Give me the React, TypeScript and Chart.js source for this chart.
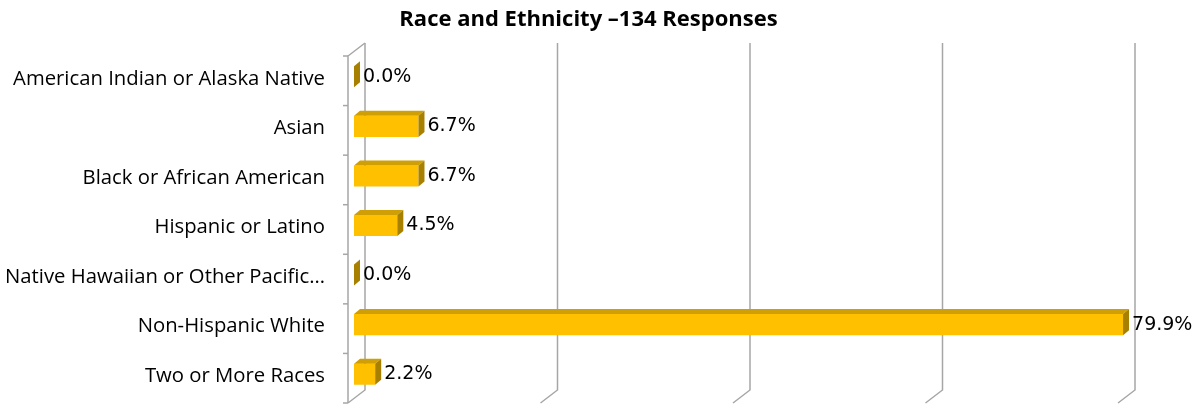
import React, { useEffect, useRef } from "react";
import { Chart, registerables } from "chart.js";

Chart.register(...registerables);

const titleText = "Race and Ethnicity \u2013134 Responses";
const categories = [
  "American Indian or Alaska Native",
  "Asian",
  "Black or African American",
  "Hispanic or Latino",
  "Native Hawaiian or Other Pacific\u2026",
  "Non-Hispanic White",
  "Two or More Races",
];
const values = [0.0, 6.7, 6.7, 4.5, 0.0, 79.9, 2.2];
const axisMin = 0;
const axisMax = 80;
const axisStep = 20;

const FRONT = "#FFC000";
const TOP = "#D09E05";
const SIDE = "#A88000";
const GRID = "#A6A6A6";
const DEPTH_BAR = { dx: 6, dy: -5 };
const BACK = { dx: 11, dy: -9 };
const FRONTP = { dx: -6, dy: 4 };

const titleShift = {
  id: "titleShift",
  afterLayout(chart: any) {
    if (chart.titleBlock) {
      chart.titleBlock.left = 53;
    }
  },
};

const walls = {
  id: "walls3d",
  beforeDatasetsDraw(chart: any) {
    const { ctx, chartArea, scales } = chart;
    const xs = scales.x;
    ctx.save();
    ctx.strokeStyle = GRID;
    ctx.lineWidth = 1.5;
    const top = chartArea.top;
    const bottom = chartArea.bottom;
    for (let v = axisMin; v <= axisMax; v += axisStep) {
      const x = xs.getPixelForValue(v);
      ctx.beginPath();
      ctx.moveTo(x + BACK.dx, top + BACK.dy);
      ctx.lineTo(x + BACK.dx, bottom + BACK.dy);
      ctx.lineTo(x + FRONTP.dx, bottom + FRONTP.dy);
      ctx.stroke();
    }
    const x0 = xs.getPixelForValue(axisMin);
    ctx.beginPath();
    ctx.moveTo(x0 + BACK.dx, top + BACK.dy);
    ctx.lineTo(x0 + FRONTP.dx, top + FRONTP.dy);
    ctx.lineTo(x0 + FRONTP.dx, bottom + FRONTP.dy);
    ctx.stroke();
    const n = categories.length;
    for (let i = 0; i <= n; i++) {
      const y = top + ((bottom - top) * i) / n + FRONTP.dy;
      ctx.beginPath();
      ctx.moveTo(x0 + FRONTP.dx - 5, y);
      ctx.lineTo(x0 + FRONTP.dx, y);
      ctx.stroke();
    }
    ctx.restore();
  },
};

const bars3d = {
  id: "bars3d",
  afterDatasetsDraw(chart: any) {
    const { ctx } = chart;
    const meta = chart.getDatasetMeta(0);
    ctx.save();
    meta.data.forEach((el: any, i: number) => {
      const p = el.getProps(["x", "y", "base", "height"], true);
      const x0 = Math.min(p.base, p.x);
      const x1 = Math.max(p.base, p.x);
      const yT = p.y - p.height / 2;
      const yB = p.y + p.height / 2;
      ctx.fillStyle = TOP;
      ctx.beginPath();
      ctx.moveTo(x0, yT);
      ctx.lineTo(x1, yT);
      ctx.lineTo(x1 + DEPTH_BAR.dx, yT + DEPTH_BAR.dy);
      ctx.lineTo(x0 + DEPTH_BAR.dx, yT + DEPTH_BAR.dy);
      ctx.closePath();
      ctx.fill();
      ctx.fillStyle = SIDE;
      ctx.beginPath();
      ctx.moveTo(x1, yT);
      ctx.lineTo(x1 + DEPTH_BAR.dx, yT + DEPTH_BAR.dy);
      ctx.lineTo(x1 + DEPTH_BAR.dx, yB + DEPTH_BAR.dy);
      ctx.lineTo(x1, yB);
      ctx.closePath();
      ctx.fill();
      ctx.fillStyle = "#000";
      ctx.font = "19px 'DejaVu Sans'";
      ctx.textAlign = "left";
      ctx.textBaseline = "middle";
      ctx.fillText(values[i].toFixed(1) + "%", x1 + DEPTH_BAR.dx + 3, p.y);
    });
    ctx.restore();
  },
};

export default function App() {
  const ref = useRef<HTMLCanvasElement | null>(null);
  useEffect(() => {
    document.body.style.margin = "0";
    const chart = new Chart(ref.current as HTMLCanvasElement, {
      type: "bar",
      data: {
        labels: categories,
        datasets: [
          {
            data: values,
            backgroundColor: FRONT,
            borderWidth: 0,
            barPercentage: 0.85,
            categoryPercentage: 0.5,
          },
        ],
      },
      options: {
        indexAxis: "y",
        animation: false,
        responsive: false,
        maintainAspectRatio: false,
        devicePixelRatio: 1,
        layout: { padding: { left: 0, right: 74, top: 0, bottom: 6 } },
        plugins: {
          legend: { display: false },
          tooltip: { enabled: false },
          title: {
            display: true,
            text: titleText,
            color: "#000",
            font: { family: "'Open Sans'", size: 22, weight: "bold", lineHeight: 1.2 },
            padding: { top: 7, bottom: 18.6 },
          },
        },
        scales: {
          x: {
            type: "linear",
            min: axisMin,
            max: axisMax,
            display: false,
            ticks: { stepSize: axisStep },
          },
          y: {
            grid: { display: false, drawTicks: false },
            border: { display: false },
            ticks: {
              color: "#000",
              font: { family: "'Open Sans'", size: 20.3 },
              padding: 29,
              labelOffset: 2,
              autoSkip: false,
            },
            afterFit(scale: any) {
              scale.width = 354;
              scale.paddingTop = 0;
              scale.paddingBottom = 0;
            },
          },
        },
      },
      plugins: [titleShift, walls, bars3d],
    });
    return () => chart.destroy();
  }, []);
  return (
    <div style={{ width: 1198, height: 405 }}>
      <canvas ref={ref} width={1198} height={405} style={{ display: "block" }} />
    </div>
  );
}
